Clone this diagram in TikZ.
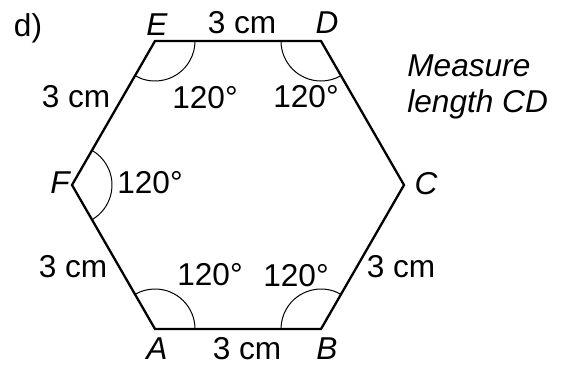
\documentclass[tikz,border=0pt]{standalone}
\usepackage{fontspec}
\setmainfont{Liberation Sans}
\usepackage{tikz}
\usetikzlibrary{positioning}

\begin{document}
\begin{tikzpicture}[x=0.5pt, y=0.5pt, font=\fontsize{15.8}{18}\selectfont,
    side/.style={line width=1.15pt, line join=miter},
    anglearc/.style={line width=0.5pt},
    vertexlabel/.style={font=\fontsize{15.8}{18}\selectfont\itshape, inner sep=0pt},
    measurelabel/.style={inner sep=0pt}]
  % Define arc radius
  \def\ar{20pt}

  \useasboundingbox (0,0) rectangle (565,365);

  % ---- Hexagon corners ----
  \coordinate (A) at (155,36);
  \coordinate (B) at (321,36);
  \coordinate (C) at (404,180);
  \coordinate (D) at (321,324);
  \coordinate (E) at (155,324);
  \coordinate (F) at (72,180);

  % ---- Sides ----
  \draw[side] (A) -- (B) -- (C) -- (D) -- (E) -- (F) -- cycle;

  % ---- Angle marks ----
  \draw[anglearc] ([shift={(240:\ar)}]E) arc[start angle=240, end angle=360, radius=\ar];
  \draw[anglearc] ([shift={(180:\ar)}]D) arc[start angle=180, end angle=300, radius=\ar];
  \draw[anglearc] ([shift={(-60:\ar)}]F) arc[start angle=-60, end angle=60, radius=\ar];
  \draw[anglearc] ([shift={(0:\ar)}]A) arc[start angle=0, end angle=120, radius=\ar];
  \draw[anglearc] ([shift={(60:\ar)}]B) arc[start angle=60, end angle=180, radius=\ar];

  % ---- Corner letters ----
  \node[vertexlabel] (labA) at (157,16) {A};
  \node[vertexlabel] (labB) at (327,16) {B};
  \node[vertexlabel] (labC) at (426,181) {C};
  \node[vertexlabel] (labD) at (327,342) {D};
  \node[vertexlabel] (labE) at (157,340) {E};
  \node[vertexlabel] (labF) at (60,182) {F};

  % ---- Side lengths ----
  \node[measurelabel] (sideED) at (242,342) {3 cm};
  \node[measurelabel] (sideEF) at (76,268) {3 cm};
  \node[measurelabel] (sideFA) at (73,98) {3 cm};
  \node[measurelabel] (sideBC) at (401,98) {3 cm};
  \node[measurelabel] (sideAB) at (247,16) {3 cm};

  % ---- Angle sizes ----
  \node[measurelabel] (angE) at (205,267) {120°};
  \node[measurelabel] (angD) at (306,268) {120°};
  \node[measurelabel] (angF) at (150,182) {120°};
  \node[measurelabel] (angA) at (210,90) {120°};
  \node[measurelabel] (angB) at (296,89) {120°};

  % ---- Part letter and task ----
  \node[measurelabel, font=\fontsize{15.8}{18}\selectfont\itshape, align=left, anchor=west] (task) at (407,278) {Measure\\length CD};
  \node[measurelabel] (part) at (28,337) {d)};
\end{tikzpicture}
\end{document}
